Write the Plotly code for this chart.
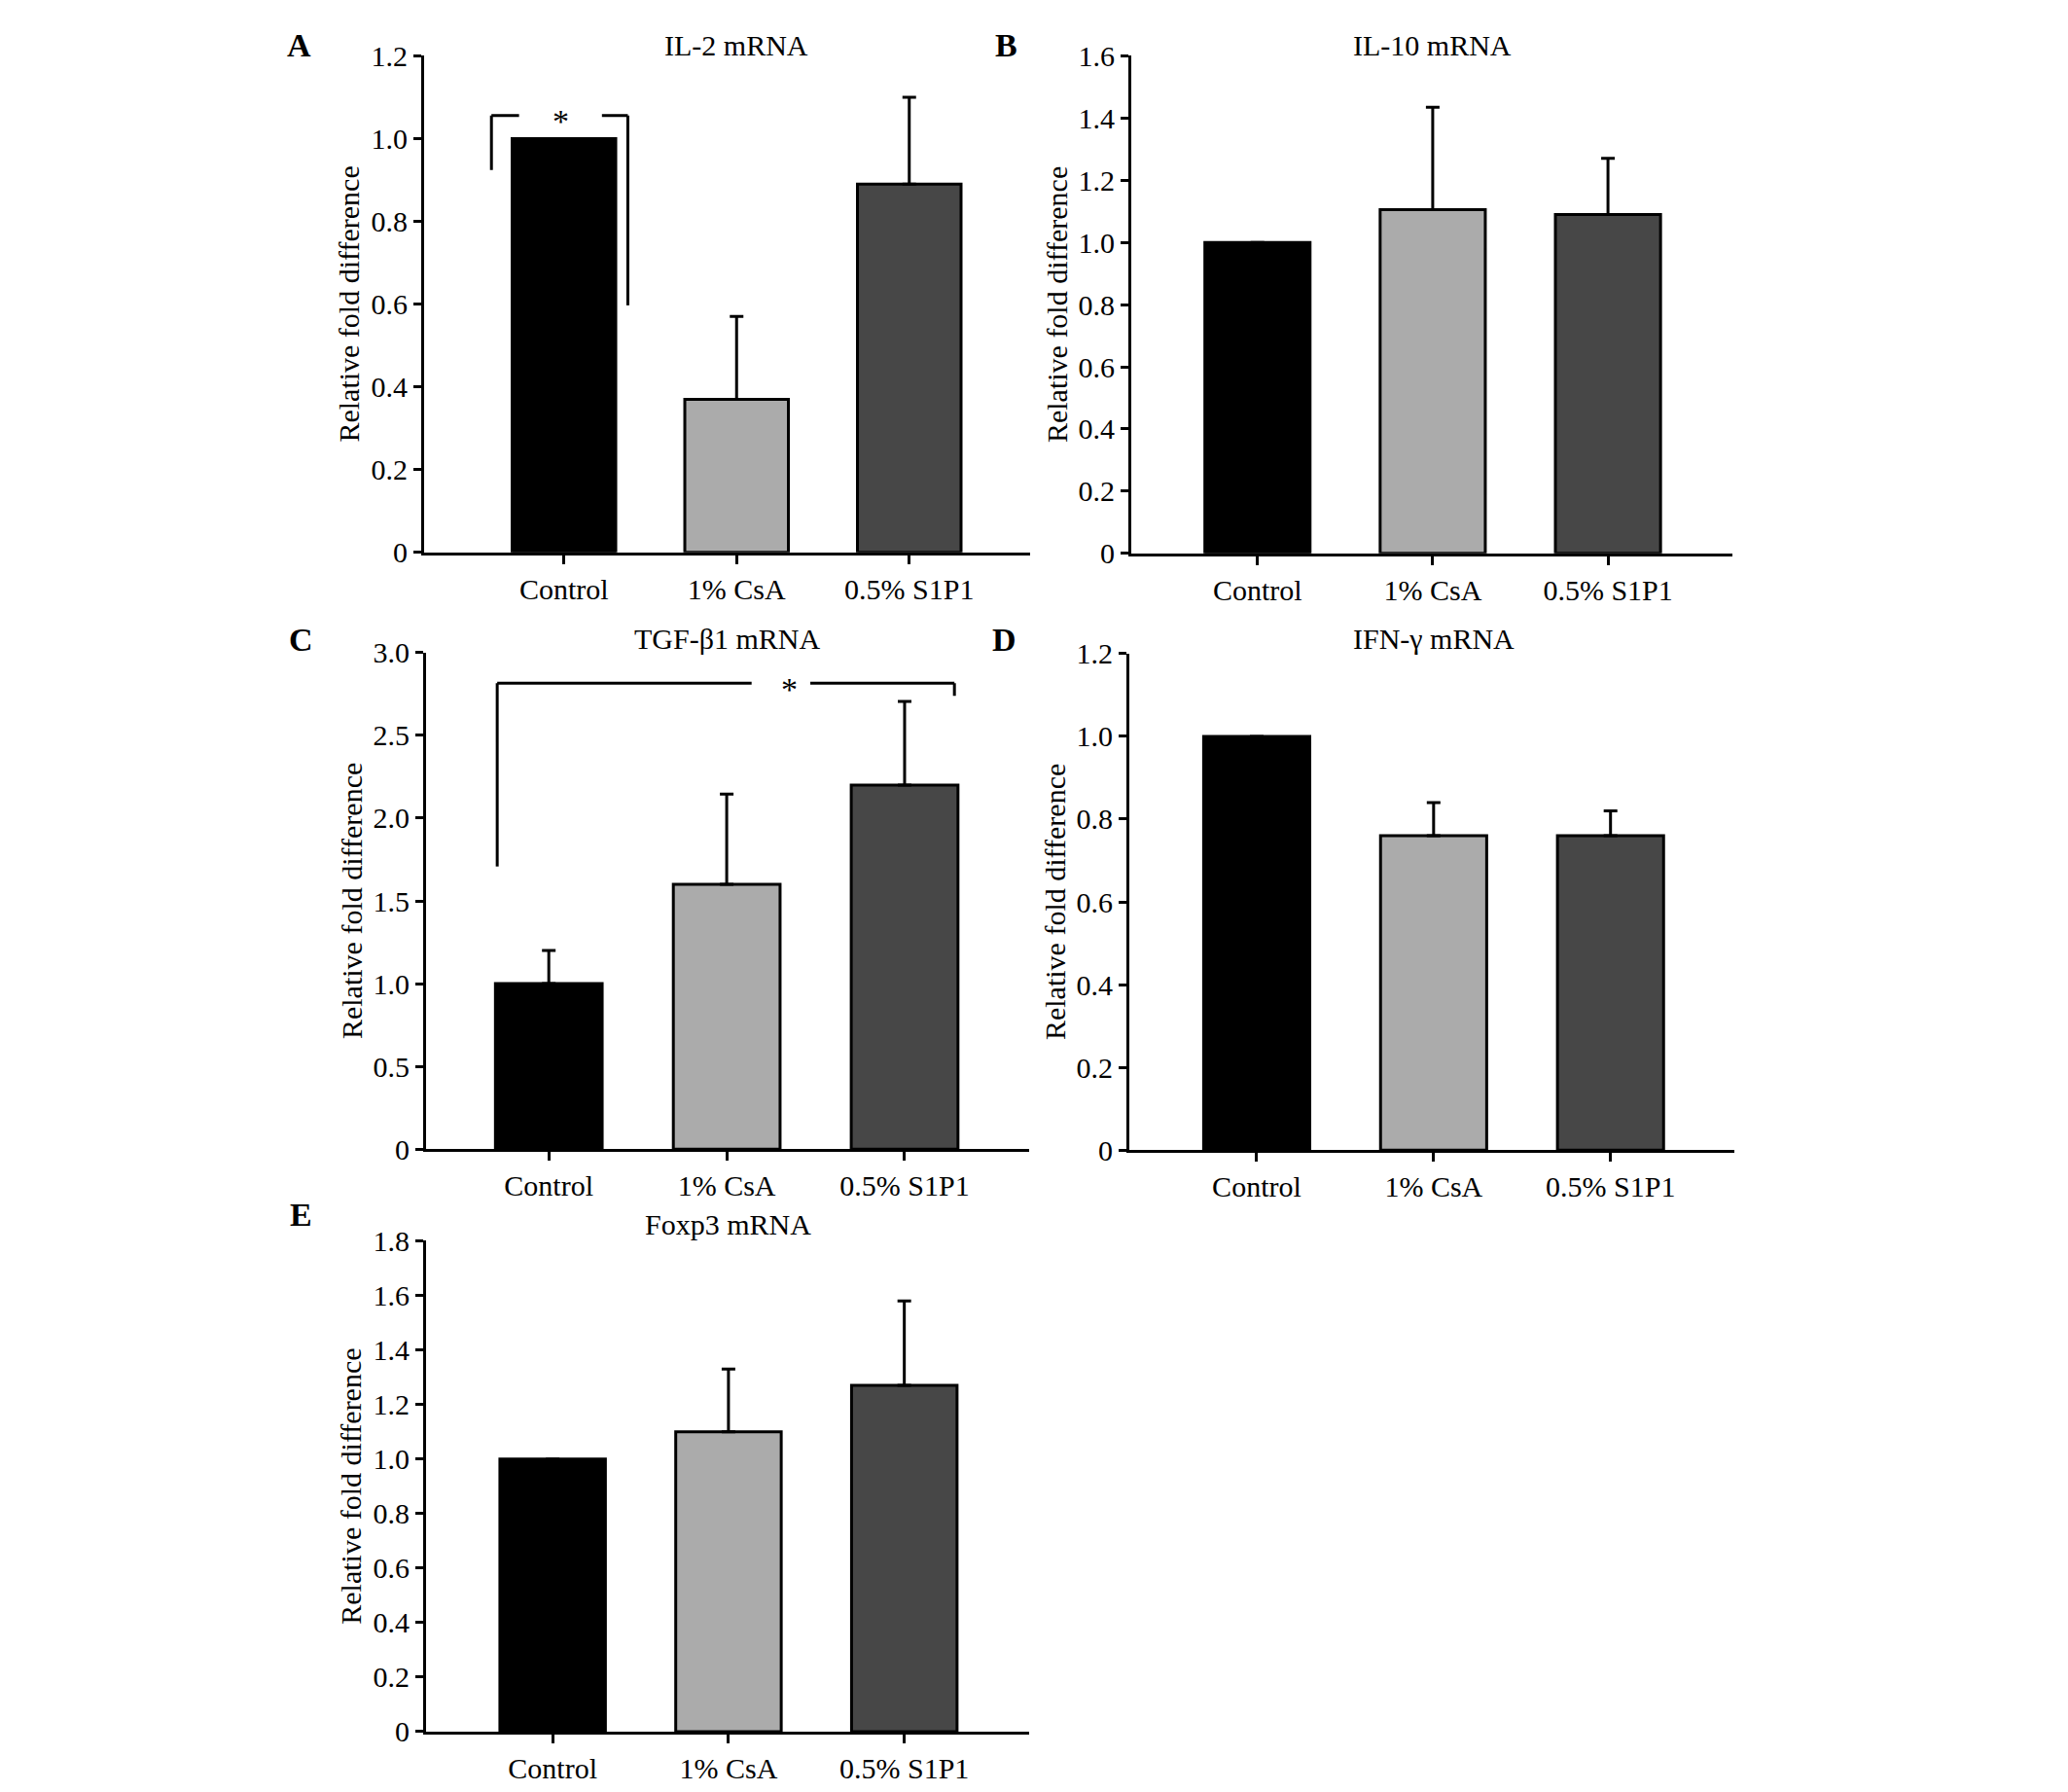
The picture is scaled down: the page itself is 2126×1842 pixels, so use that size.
import plotly.graph_objects as go

# groups and bar colours
groups = ['Control', '1% CsA', '0.5% S1P1']
bar_colors = ['#000000', '#ababab', '#474747']

# values (mean, upper error)
il2_mean = [1.00, 0.37, 0.89]
il2_err = [None, 0.20, 0.21]
il10_mean = [1.00, 1.105, 1.09]
il10_err = [None, 0.33, 0.18]
tgf_mean = [1.00, 1.60, 2.20]
tgf_err = [0.20, 0.545, 0.505]
ifn_mean = [1.00, 0.76, 0.76]
ifn_err = [None, 0.08, 0.06]
foxp3_mean = [1.00, 1.10, 1.27]
foxp3_err = [None, 0.23, 0.31]

# y tick labels per panel
il2_ticks = ['0', '0.2', '0.4', '0.6', '0.8', '1.0', '1.2']
il10_ticks = ['0', '0.2', '0.4', '0.6', '0.8', '1.0', '1.2', '1.4', '1.6']
tgf_ticks = ['0', '0.5', '1.0', '1.5', '2.0', '2.5', '3.0']
ifn_ticks = ['0', '0.2', '0.4', '0.6', '0.8', '1.0', '1.2']
foxp3_ticks = ['0', '0.2', '0.4', '0.6', '0.8', '1.0', '1.2', '1.4', '1.6', '1.8']

# significance brackets: (x_left, x_right, y_top, y_left_end, y_right_end, gap_from, gap_to, star_x)
il2_bracket = (-0.42, 0.37, 1.056, 0.924, 0.597, -0.26, 0.22, -0.02)
tgf_bracket = (-0.29, 2.28, 2.816, 1.708, 2.739, 1.14, 1.47, 1.35)

W, H = 2126, 1842
FONT = 'Liberation Serif'

panels = [
    # letter, title, mean, err, ticks, x px, y px (top, zero), x range, title y, letter y
    ('A', 'IL-2 mRNA', il2_mean, il2_err, il2_ticks, (428, 1051), (33, 553), (-0.81, 2.70), 22, 22),
    ('B', 'IL-10 mRNA', il10_mean, il10_err, il10_ticks, (1155, 1773), (33, 554), (-0.72, 2.71), 22, 22),
    ('C', 'TGF-β1 mRNA', tgf_mean, tgf_err, tgf_ticks, (430, 1050), (658, 1178), (-0.69, 2.70), 643, 644),
    ('D', 'IFN-γ mRNA', ifn_mean, ifn_err, ifn_ticks, (1153, 1775), (659, 1179), (-0.72, 2.70), 643, 644),
    ('E', 'Foxp3 mRNA', foxp3_mean, foxp3_err, foxp3_ticks, (430, 1050), (1274, 1788), (-0.72, 2.71), 1257, 1246),
]

fig = go.Figure()
annotations = []
shapes = []

for i, (letter, title, mean, err, ticks, xpx, ypx, xr, ty, ly) in enumerate(panels):
    n = '' if i == 0 else str(i + 1)
    tickvals = [float(t) for t in ticks]
    fig.add_trace(go.Bar(
        x=groups, y=mean, width=0.6,
        marker=dict(color=bar_colors, line=dict(color='black', width=3)),
        error_y=dict(type='data', symmetric=False, array=err, arrayminus=[0, 0, 0],
                     color='black', thickness=3, width=7),
        xaxis='x' + n, yaxis='y' + n, showlegend=False,
    ))
    xdom = [xpx[0] / W, xpx[1] / W]
    ydom = [1 - ypx[1] / H, 1 - ypx[0] / H]
    fig.update_layout(**{
        'xaxis' + n: dict(domain=xdom, anchor='y' + n, range=list(xr), type='category',
                          showline=True, linecolor='black', linewidth=3,
                          ticks='outside', ticklen=9, tickwidth=3, tickcolor='black',
                          showgrid=False, zeroline=False,
                          tickfont=dict(family=FONT, size=30, color='black')),
        'yaxis' + n: dict(domain=ydom, anchor='x' + n, range=[0, tickvals[-1]],
                          tickvals=tickvals, ticktext=ticks,
                          showline=True, linecolor='black', linewidth=3,
                          ticks='outside', ticklen=8, tickwidth=3, tickcolor='black',
                          showgrid=False, zeroline=False,
                          tickfont=dict(family=FONT, size=30, color='black')),
    })
    # panel letter
    annotations.append(dict(text='<b>' + letter + '</b>', xref='paper', yref='paper',
                            x=(xpx[0] - 129) / W, y=1 - ly / H,
                            xanchor='center', yanchor='middle',
                            showarrow=False, font=dict(family=FONT, size=34, color='black')))
    # title, centred over bar area
    annotations.append(dict(text=title, xref='x' + n + ' domain', yref='paper',
                            x=(1.0 - xr[0]) / (xr[1] - xr[0]), y=1 - ty / H,
                            xanchor='center', yanchor='middle',
                            showarrow=False, font=dict(family=FONT, size=30, color='black')))
    # y-axis label
    annotations.append(dict(text='Relative fold difference', xref='paper', yref='paper',
                            x=(xpx[0] - 77) / W, y=1 - (ypx[0] + ypx[1]) / 2 / H,
                            xanchor='center', yanchor='middle',
                            textangle=-90, showarrow=False,
                            font=dict(family=FONT, size=30, color='black')))

# significance brackets
for n, br in [('', il2_bracket), ('3', tgf_bracket)]:
    xl, xr_, yt, yl, yr, g0, g1, sx = br
    line = dict(color='black', width=3)
    for seg in [(xl, yl, xl, yt), (xl, yt, g0, yt), (g1, yt, xr_, yt), (xr_, yt, xr_, yr)]:
        shapes.append(dict(type='line', xref='x' + n, yref='y' + n,
                           x0=seg[0], y0=seg[1], x1=seg[2], y1=seg[3], line=line))
    annotations.append(dict(text='*', xref='x' + n, yref='y' + n, x=sx, y=yt,
                            xanchor='center', yanchor='middle',
                            yshift=-6, showarrow=False,
                            font=dict(family=FONT, size=34, color='black')))

fig.update_layout(
    width=W, height=H,
    margin=dict(l=0, r=0, t=0, b=0),
    paper_bgcolor='white', plot_bgcolor='white',
    annotations=annotations, shapes=shapes,
    font=dict(family=FONT, color='black'),
)

fig.write_html('out.html')
